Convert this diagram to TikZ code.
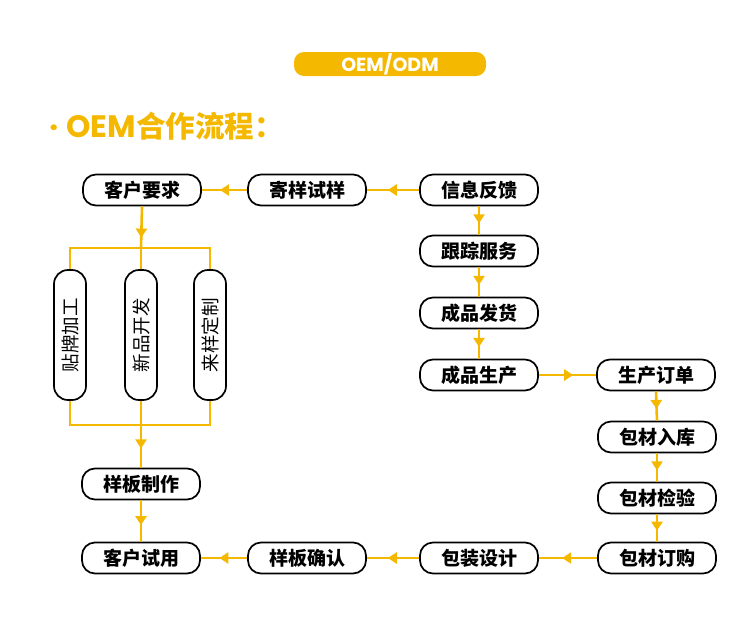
\documentclass[tikz,border=0pt]{standalone}
\usepackage{fontspec}
\newfontfamily\cjk{Noto Sans CJK SC}
\newfontfamily\pop{Poppins}
\usetikzlibrary{arrows.meta,decorations.markings}
\definecolor{gold}{HTML}{F4B800}
\tikzset{
  box/.style={draw=black, line width=1.7pt, rounded corners=13pt, minimum width=118pt,
    minimum height=31pt, inner sep=0pt, fill=white, font=\cjk\bfseries\fontsize{19}{19}\selectfont},
  vbox/.style={draw=black, line width=1.7pt, rounded corners=14pt, minimum width=32pt,
    minimum height=130pt, inner sep=0pt, fill=white, font=\cjk\fontsize{18.5}{18.5}\selectfont},
  conn/.style={draw=gold, line width=2.6pt},
  midarrow/.style={conn, postaction={decorate}, decoration={markings,
    mark=at position #1 with {\arrow[color=gold]{Triangle[length=9pt,width=11pt]}}}},
  midarrow/.default=0.6
}
\begin{document}
\begin{tikzpicture}[x=1pt,y=-1pt]
\useasboundingbox (0,0) rectangle (750,638);
% banner and title
\node[fill=gold, rounded corners=10pt, minimum width=192pt, minimum height=24pt, inner sep=0pt,
  text=white, font=\pop\bfseries\fontsize{19}{19}\selectfont] (banner) at (390,64) {OEM/ODM};
\node[anchor=west, inner sep=0pt, text=gold] (title) at (49,126)
  {{\pop\bfseries\fontsize{31}{31}\selectfont ·\kern8pt OEM}{\cjk\bfseries\fontsize{29.5}{29.5}\selectfont 合作流程：}};
% top row
\node[box] (kehu) at (142,190) {客户要求};
\node[box] (jiyang) at (307,190) {寄样试样};
\node[box] (xinxi) at (479,190) {信息反馈};
\node[box] (genzong) at (479,251) {跟踪服务};
\node[box] (fahuo) at (479,313) {成品发货};
\node[box] (shengchan) at (479,375) {成品生产};
\node[box] (dingdan) at (656,375) {生产订单};
\node[box] (ruku) at (657,437) {包材入库};
\node[box] (jianyan) at (657,498) {包材检验};
\node[box] (dinggou) at (657,558) {包材订购};
\node[box] (baozhuang) at (479,558) {包装设计};
\node[box] (queren) at (307,558) {样板确认};
\node[box] (shiyong) at (141,558) {客户试用};
\node[box] (zhizuo) at (141,484) {样板制作};
% vertical boxes
\node[vbox] (tiepai) at (70,335) {\rotatebox{90}{贴牌加工}};
\node[vbox] (xinpin) at (141,335) {\rotatebox{90}{新品开发}};
\node[vbox] (laiyang) at (210,335) {\rotatebox{90}{来样定制}};
% coordinates of the bars
\coordinate (tl) at (70,248);
\coordinate (tb) at (141,248);
\coordinate (tr) at (210,248);
\coordinate (bl) at (70,425);
\coordinate (bb) at (141,425);
\coordinate (br) at (210,425);
% connectors
\draw[midarrow] (jiyang.west) -- (kehu.east);
\draw[midarrow] (xinxi.west) -- (jiyang.east);
\draw[midarrow] (xinxi.south) -- (genzong.north);
\draw[midarrow] (genzong.south) -- (fahuo.north);
\draw[midarrow] (fahuo.south) -- (shengchan.north);
\draw[midarrow] (shengchan.east) -- (dingdan.west);
\draw[midarrow] (dingdan.south) -- (ruku.north);
\draw[midarrow] (ruku.south) -- (jianyan.north);
\draw[midarrow] (jianyan.south) -- (dinggou.north);
\draw[midarrow] (dinggou.west) -- (baozhuang.east);
\draw[midarrow] (baozhuang.west) -- (queren.east);
\draw[midarrow] (queren.west) -- (shiyong.east);
\draw[midarrow=0.75] (kehu.south) -- (tb);
\draw[conn] (tiepai.north) -- (tl) -- (tr) -- (laiyang.north);
\draw[conn] (xinpin.north) -- (tb);
\draw[conn] (tiepai.south) -- (bl) -- (br) -- (laiyang.south);
\draw[conn] (xinpin.south) -- (bb);
\draw[midarrow=0.55] (bb) -- (zhizuo.north);
\draw[midarrow] (zhizuo.south) -- (shiyong.north);
\end{tikzpicture}
\end{document}
